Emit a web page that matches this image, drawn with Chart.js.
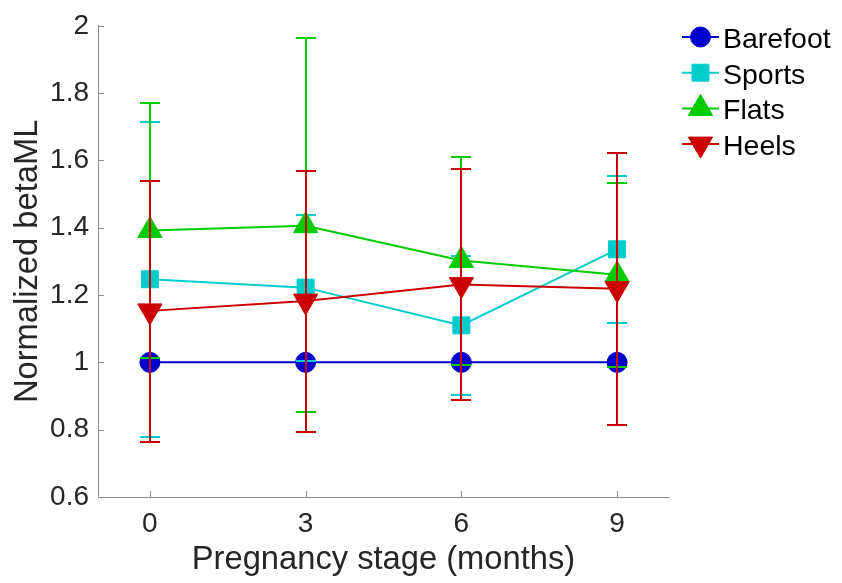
<!DOCTYPE html>
<html>
<head>
<meta charset="utf-8">
<script src="https://cdn.jsdelivr.net/npm/chart.js"></script>
<style>
  html, body { margin: 0; padding: 0; background: #fff; }
  #wrap { width: 842px; height: 583px; position: relative; }
</style>
</head>
<body>
<div id="wrap"><canvas id="betaChart"></canvas></div>
<script>
// values
const months = [0, 3, 6, 9];
const xTicks = [0, 3, 6, 9];
const yTicks = [0.6, 0.8, 1, 1.2, 1.4, 1.6, 1.8, 2];

const barefoot = [1, 1, 1, 1];
const barefootLow = [1, 1, 1, 1];
const barefootHigh = [1, 1, 1, 1];

const sports = [1.247, 1.222, 1.110, 1.336];
const sportsLow = [0.779, 1.005, 0.904, 1.118];
const sportsHigh = [1.715, 1.438, 1.317, 1.554];

const flats = [1.392, 1.406, 1.303, 1.260];
const flatsLow = [1.013, 0.852, 0.992, 0.986];
const flatsHigh = [1.770, 1.963, 1.611, 1.533];

const heels = [1.153, 1.182, 1.231, 1.219];
const heelsLow = [0.763, 0.793, 0.888, 0.815];
const heelsHigh = [1.540, 1.570, 1.576, 1.621];

const FONT = "'Liberation Sans', Arial, Helvetica, sans-serif";
Chart.defaults.font.family = FONT;

function pts(vals) {
  return months.map((m, i) => ({ x: m, y: vals[i] }));
}

function series(label, vals, low, high, color, style, radius, rotation, order) {
  return {
    label: label,
    data: pts(vals),
    errLow: low,
    errHigh: high,
    borderColor: color,
    backgroundColor: color,
    borderWidth: 2,
    pointStyle: style,
    pointRadius: radius,
    pointHoverRadius: radius,
    pointRotation: rotation,
    pointBorderWidth: 1,
    tension: 0,
    fill: false,
    clip: false,
    order: order
  };
}

// vertical error bars with caps, drawn just before each series' own line
const errorBars = {
  id: "errorBars",
  beforeDatasetDraw(chart, args) {
    const ds = chart.data.datasets[args.index];
    if (!ds.errLow) return;
    const ctx = chart.ctx;
    const xs = chart.scales.x;
    const ys = chart.scales.y;
    ctx.save();
    ctx.strokeStyle = ds.borderColor;
    ctx.lineWidth = 2;
    ds.data.forEach((p, i) => {
      const px = Math.round(xs.getPixelForValue(p.x));
      const lo = Math.round(ys.getPixelForValue(ds.errLow[i]));
      const hi = Math.round(ys.getPixelForValue(ds.errHigh[i]));
      ctx.beginPath();
      ctx.moveTo(px, lo);
      ctx.lineTo(px, hi);
      ctx.moveTo(px - 10, lo);
      ctx.lineTo(px + 10, lo);
      ctx.moveTo(px - 10, hi);
      ctx.lineTo(px + 10, hi);
      ctx.stroke();
    });
    ctx.restore();
  }
};

// inward tick marks like matlab
const innerTicks = {
  id: "innerTicks",
  beforeDatasetsDraw(chart) {
    const ctx = chart.ctx;
    const a = chart.chartArea;
    ctx.save();
    ctx.strokeStyle = "#8c8c8c";
    ctx.lineWidth = 1;
    ctx.beginPath();
    yTicks.forEach(v => {
      const py = Math.round(chart.scales.y.getPixelForValue(v)) + 0.5;
      ctx.moveTo(a.left, py);
      ctx.lineTo(a.left + 6, py);
    });
    xTicks.forEach(v => {
      const px = Math.round(chart.scales.x.getPixelForValue(v)) + 0.5;
      ctx.moveTo(px, a.bottom);
      ctx.lineTo(px, a.bottom - 6);
    });
    ctx.stroke();
    ctx.restore();
  }
};

// legend with line + marker sample
const lineLegend = {
  id: "lineLegend",
  afterDraw(chart) {
    const ctx = chart.ctx;
    ctx.save();
    chart.data.datasets.forEach((ds, i) => {
      const y = 37 + i * 35.7;
      ctx.strokeStyle = ds.borderColor;
      ctx.fillStyle = ds.backgroundColor;
      ctx.lineWidth = 2;
      ctx.beginPath();
      ctx.moveTo(682, y);
      ctx.lineTo(719, y);
      ctx.stroke();
      ctx.lineWidth = 1;
      Chart.helpers.drawPoint(ctx, {
        pointStyle: ds.pointStyle,
        radius: ds.pointRadius,
        rotation: ds.pointRotation,
        borderWidth: 1
      }, 700.5, y);
      ctx.fillStyle = "#000";
      ctx.font = "28.5px " + FONT;
      ctx.textAlign = "left";
      ctx.textBaseline = "alphabetic";
      ctx.fillText(ds.label, 723, y + 11);
    });
    ctx.restore();
  }
};

new Chart(document.getElementById("betaChart"), {
  type: "line",
  data: {
    datasets: [
      series("Barefoot", barefoot, barefootLow, barefootHigh, "#0000CC", "circle", 10, 0, 3),
      series("Sports", sports, sportsLow, sportsHigh, "#00CCCC", "rect", 12, 0, 2),
      series("Flats", flats, flatsLow, flatsHigh, "#00CC00", "triangle", 14, 0, 1),
      series("Heels", heels, heelsLow, heelsHigh, "#CC0000", "triangle", 14, 180, 0)
    ]
  },
  options: {
    responsive: true,
    maintainAspectRatio: false,
    animation: false,
    events: [],
    layout: { padding: { top: 19, right: 173, bottom: 0, left: 0 } },
    plugins: {
      legend: { display: false },
      tooltip: { enabled: false }
    },
    scales: {
      x: {
        type: "linear",
        min: -1,
        max: 10,
        afterBuildTicks: s => { s.ticks = xTicks.map(v => ({ value: v })); },
        afterFit: s => { s.height = 86; },
        grid: { display: false, drawTicks: false },
        border: { display: true, color: "#8c8c8c", width: 1 },
        ticks: {
          color: "#262626",
          font: { size: 28 },
          padding: 10,
          maxRotation: 0,
          callback: v => String(v)
        },
        title: {
          display: true,
          text: "Pregnancy stage (months)",
          color: "#262626",
          font: { size: 32.7 },
          padding: { top: 0, bottom: 3 }
        }
      },
      y: {
        type: "linear",
        min: 0.6,
        max: 2,
        afterBuildTicks: s => { s.ticks = yTicks.map(v => ({ value: v })); },
        afterFit: s => { s.width = 98; },
        grid: { display: false, drawTicks: false },
        border: { display: true, color: "#8c8c8c", width: 1 },
        ticks: {
          color: "#262626",
          font: { size: 28 },
          padding: 9,
          callback: v => String(+v.toFixed(1))
        },
        title: {
          display: true,
          text: "Normalized betaML",
          color: "#262626",
          font: { size: 32.7 },
          padding: { top: 8, bottom: 0 }
        }
      }
    }
  },
  plugins: [errorBars, innerTicks, lineLegend]
});
</script>
</body>
</html>
